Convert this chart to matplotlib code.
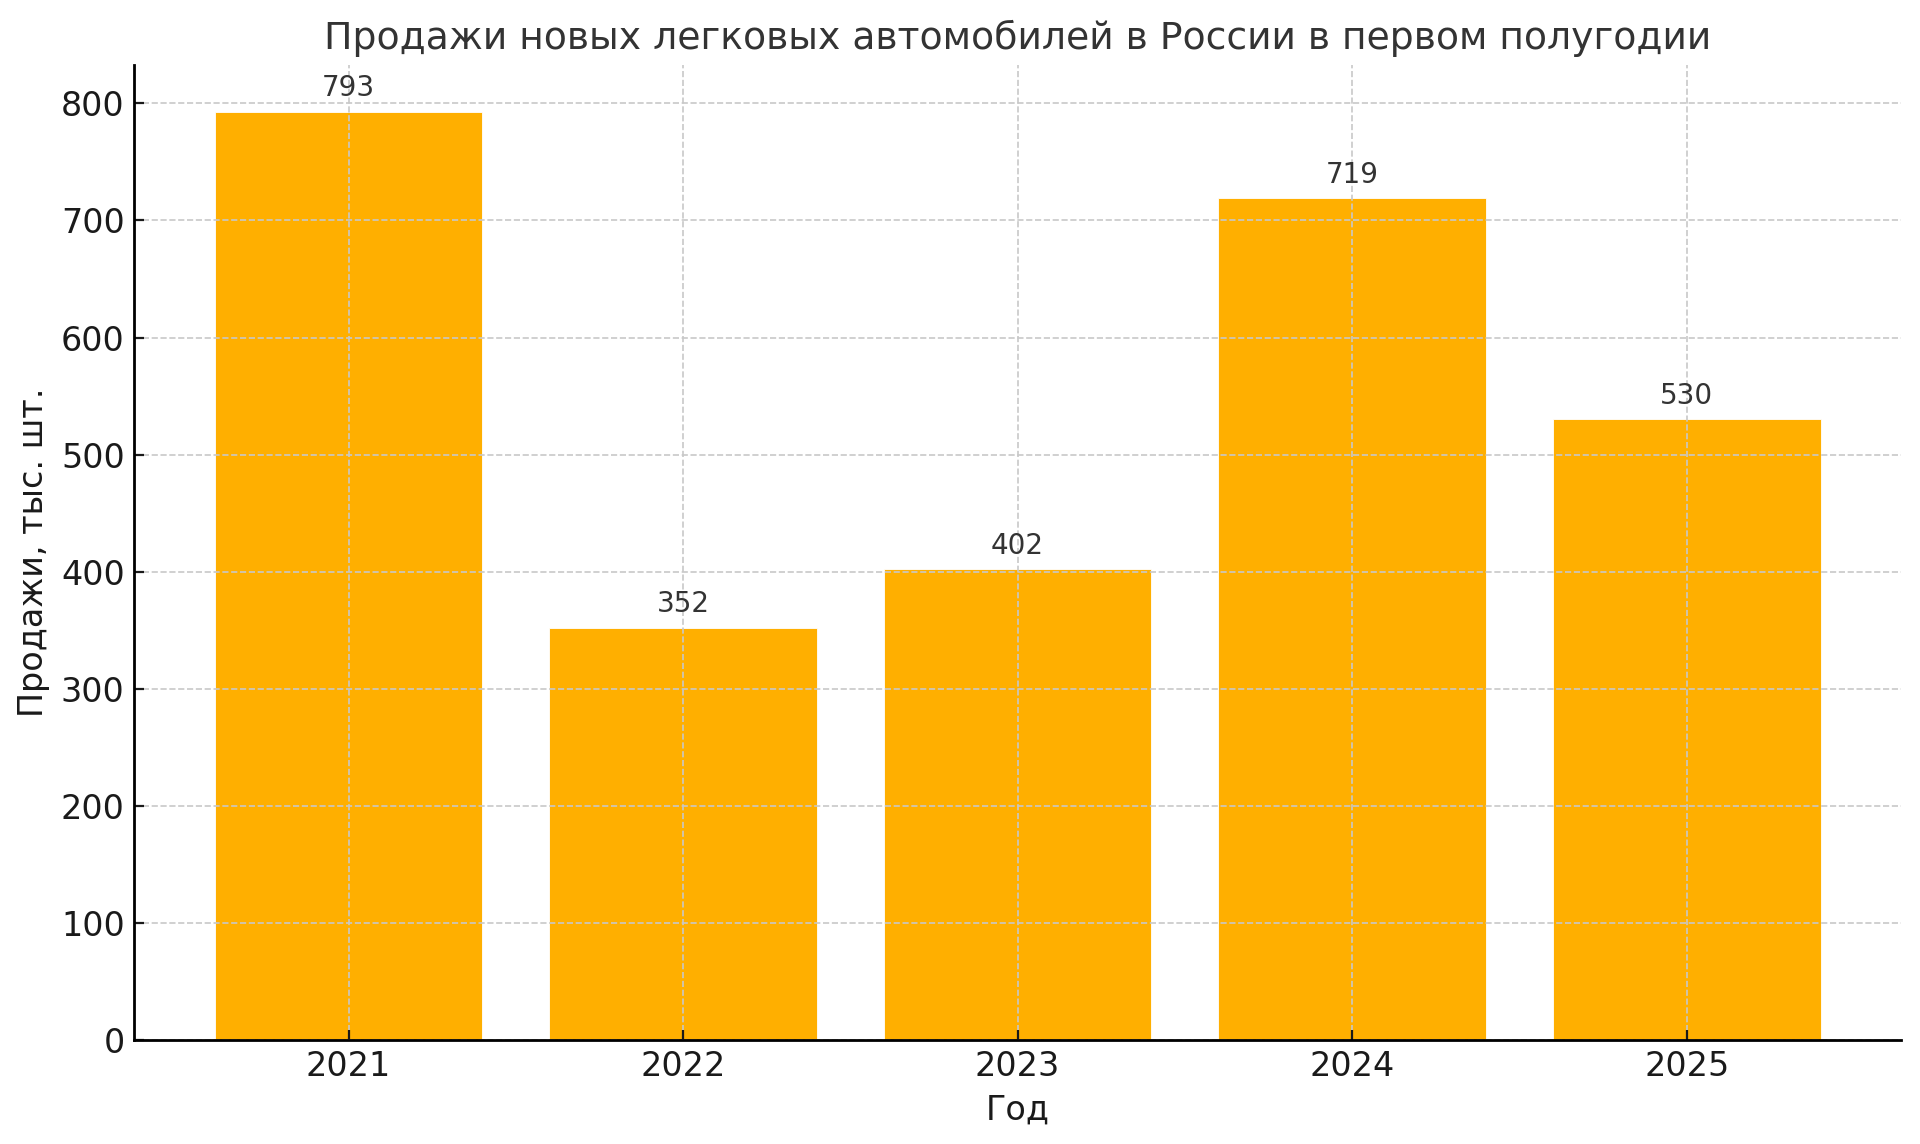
import matplotlib.pyplot as plt

# Данные
years = ['2021', '2022', '2023', '2024', '2025']
sales = [793, 352, 402, 719, 530]  # тыс. шт.

bar_color = '#FFAF00'

fig, ax = plt.subplots(figsize=(9.6, 5.72), dpi=200)
fig.subplots_adjust(left=0.07, right=0.99, bottom=0.091, top=0.943)

bars = ax.bar(years, sales, width=0.8, color=bar_color, edgecolor='white', linewidth=0.3)

# Подписи значений над столбцами
for b, v in zip(bars, sales):
    ax.annotate(f'{v}', (b.get_x() + b.get_width() / 2, v),
                xytext=(0, 3.5), textcoords='offset points',
                ha='center', va='bottom', fontsize=10, color='#333333')

ax.set_title('Продажи новых легковых автомобилей в России в первом полугодии',
             fontsize=13.6, color='#333333')
ax.set_xlabel('Год', fontsize=12, color='#1a1a1a')
ax.set_ylabel('Продажи, тыс. шт.', fontsize=12, color='#1a1a1a')

ax.grid(True, linestyle='--', color='#c8c8c8', linewidth=0.6)
ax.set_axisbelow(False)
ax.spines['top'].set_visible(False)
ax.spines['right'].set_visible(False)
for s in ('left', 'bottom'):
    ax.spines[s].set_zorder(3)
    ax.spines[s].set_linewidth(1.0)
ax.tick_params(direction='in', labelsize=12, colors='#1a1a1a')

plt.savefig('out.png')
